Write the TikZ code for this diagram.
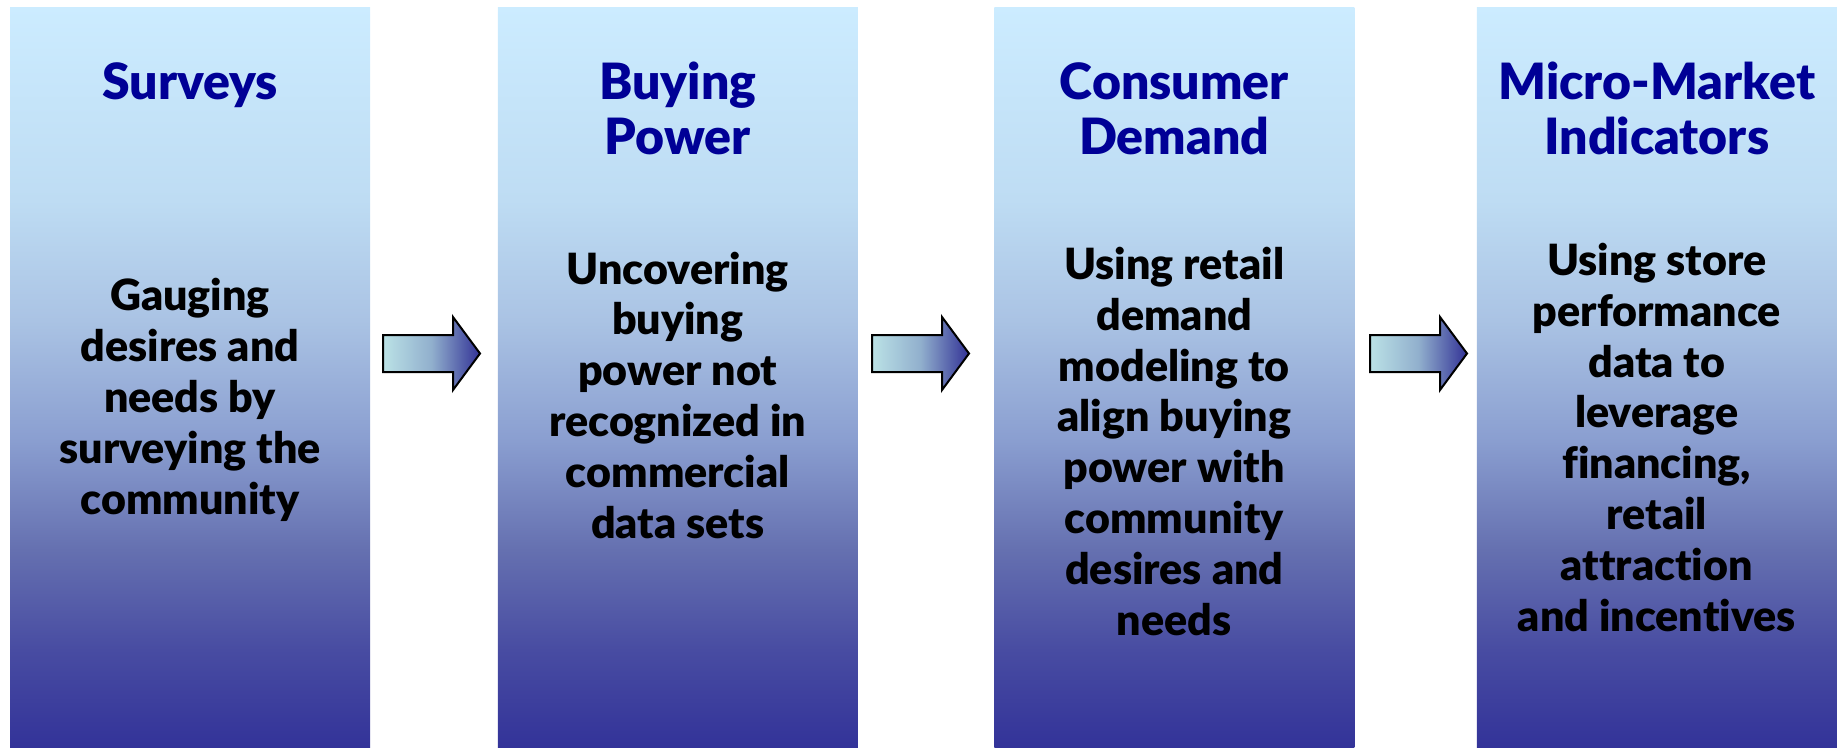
\documentclass[tikz,border=0pt]{standalone}
\usepackage{fontspec}
\setmainfont{Lato}[Ligatures=NoCommon, BoldFont={Lato Black}]

% vertical gradient of the four columns (light sky blue at the top, deep indigo at the bottom)
\pgfdeclareverticalshading{colshade}{100bp}{
  rgb(0bp)=(0.2,0.2,0.6);
  rgb(25bp)=(0.2,0.2,0.6);
  rgb(31.55bp)=(0.282,0.298,0.635);
  rgb(38.3bp)=(0.396,0.439,0.690);
  rgb(45.7bp)=(0.541,0.620,0.816);
  rgb(53.85bp)=(0.667,0.765,0.894);
  rgb(61.96bp)=(0.745,0.863,0.953);
  rgb(75bp)=(0.8,0.925,1);
  rgb(100bp)=(0.8,0.925,1)}

\definecolor{titleblue}{RGB}{0,0,150}
\definecolor{arrowlight}{RGB}{187,226,230}
\definecolor{arrowmid}{RGB}{145,175,205}
\definecolor{arrowdark}{RGB}{50,50,150}

\begin{document}
\begin{tikzpicture}[x=1pt,y=-1pt,
  colbox/.style={rectangle, draw=none, inner sep=0pt,
    minimum width=360pt, minimum height=740pt, shade, shading=colshade},
  titletext/.style={font=\fontsize{50}{55.5}\selectfont\bfseries,
    text=titleblue, align=center, inner sep=0pt, anchor=base},
  bodytext/.style={font=\fontsize{43}{50.8}\selectfont\bfseries,
    text=black, align=center, inner sep=0pt, anchor=base},
  arrowbody/.style={draw=black, line width=2pt, line join=miter,
    left color=arrowlight, right color=arrowdark, middle color=arrowmid},
  flowarrow/.pic={
    \shadedraw[arrowbody] (0,-18.5) -- (70,-18.5) -- (70,-36.5) -- (97,0)
      -- (70,36.5) -- (70,18.5) -- (0,18.5) -- cycle;
  }]
\useasboundingbox (0,0) rectangle (1843,747);

% columns
\node[colbox] (b1) at (190,377) {};
\node[colbox] (b2) at (677.75,377) {};
\node[colbox] (b3) at (1174.25,377) {};
\node[colbox] (b4) at (1656.75,377) {};

% headings (anchored at the baseline of their last line)
\node[titletext] (t1) at (b1.center |- 0,99) {Surveys};
\node[titletext] (t2) at (b2.center |- 0,154.5) {Buying\\Power};
\node[titletext] (t3) at (b3.center |- 0,154.5) {Consumer\\Demand};
\node[titletext] (t4) at (b4.center |- 0,154.5) {Micro-Market\\Indicators};

% descriptions (anchored at the baseline of their last line)
\node[bodytext] (d1) at (b1.center |- 0,514) {Gauging\\desires and\\needs by\\surveying the\\community};
\node[bodytext] (d2) at (b2.center |- 0,538) {Uncovering\\buying\\power not\\recognized in\\commercial\\data sets};
\node[bodytext] (d3) at (b3.center |- 0,635) {Using retail\\demand\\modeling to\\align buying\\power with\\community\\desires and\\needs};
\node[bodytext] (d4) at (b4.center |- 0,631) {Using store\\performance\\data to\\leverage\\financing,\\retail\\attraction\\and incentives};

% block arrows between the columns
\pic at (383,353.5) {flowarrow};
\pic at (872,353.5) {flowarrow};
\pic at (1370,353.5) {flowarrow};
\end{tikzpicture}
\end{document}
